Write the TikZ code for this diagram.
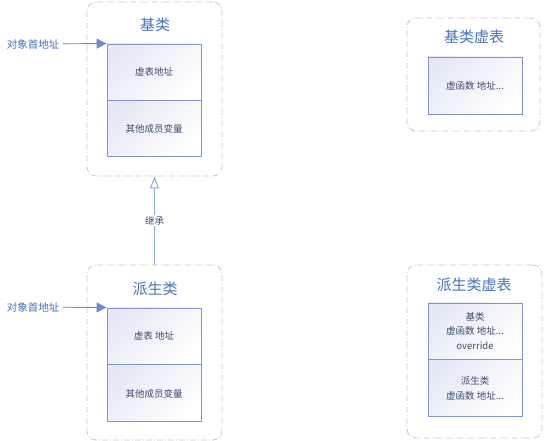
\documentclass[tikz,border=0pt]{standalone}
\usepackage{fontspec}
\setmainfont{Noto Sans CJK SC}
\usetikzlibrary{arrows.meta,positioning}

\definecolor{titleblue}{HTML}{4472C4}
\definecolor{cellline}{HTML}{7F95CC}
\definecolor{celltext}{HTML}{3F4C72}
\definecolor{cellfill}{HTML}{E6E9F5}
\definecolor{groupline}{HTML}{C9C9C9}
\definecolor{inhline}{HTML}{8FAADC}

\begin{document}
\begin{tikzpicture}[x=1pt,y=-1pt,
  group/.style={rectangle,rounded corners=9pt,draw=groupline,line width=0.8pt,
    dash pattern=on 6pt off 2pt on 1pt off 2pt,inner sep=0pt},
  grouptitle/.style={text=titleblue,font=\fontsize{15}{17}\selectfont},
  cell/.style={rectangle,draw=cellline,line width=0.9pt,
    left color=cellfill,right color=white,shading angle=45,
    minimum width=94pt,text=celltext,align=center,
    font=\fontsize{9.5}{14.5}\selectfont,inner sep=0pt},
  ptrlabel/.style={text=titleblue,font=\fontsize{10.5}{12}\selectfont}]
\useasboundingbox (0,0) rectangle (547,441);

  % base class object
  \node[group,minimum width=135pt,minimum height=174pt] (base) at (154.5,89) {};
  \node[grouptitle] (basetitle) at (155,25) {基类};
  \node[cell,minimum height=56pt] (basevptr) at (154,72) {虚表地址};
  \node[cell,minimum height=56pt] (basemem) [below=0pt of basevptr] {其他成员变量};
  \node[ptrlabel] (baseptr) at (33,44) {对象首地址};

  % derived class object
  \node[group,minimum width=135pt,minimum height=175pt] (derived) at (154.5,352.5) {};
  \node[grouptitle] (derivedtitle) at (155,289) {派生类};
  \node[cell,minimum height=56pt] (derivedvptr) at (154,336) {虚表 地址};
  \node[cell,minimum height=57pt] (derivedmem) [below=0pt of derivedvptr] {其他成员变量};
  \node[ptrlabel] (derivedptr) at (33,307) {对象首地址};

  % base vtable
  \node[group,minimum width=133pt,minimum height=113pt] (basevt) at (473.5,74.5) {};
  \node[grouptitle] (basevttitle) at (474,37) {基类虚表};
  \node[cell,minimum height=57pt] (basevtfn) at (475,85.5) {虚函数 地址...};

  % derived vtable
  \node[group,minimum width=135pt,minimum height=173pt] (derivedvt) at (474.5,351.5) {};
  \node[grouptitle] (derivedvttitle) at (474,285) {派生类虚表};
  \node[cell,minimum height=56pt] (derivedvtbase) at (475,331) {基类\\虚函数 地址...\\override};
  \node[cell,minimum height=57pt] (derivedvtown) [below=0pt of derivedvtbase] {派生类\\虚函数 地址...};

  \draw[-{Triangle[length=10pt,width=10pt]},draw=titleblue!80,fill=titleblue,line width=0.9pt]
    (baseptr) -- (basevptr.north west);
  \draw[-{Triangle[length=10pt,width=10pt]},draw=titleblue!80,fill=titleblue,line width=0.9pt]
    (derivedptr) -- (derivedvptr.north west);
  \draw[-{Triangle[open,length=12pt,width=9pt]},draw=inhline,line width=1pt]
    (derived) -- node[fill=white,text=celltext,font=\fontsize{9.5}{11}\selectfont,inner sep=1pt] (inhlabel) {继承} (base);

\end{tikzpicture}
\end{document}
